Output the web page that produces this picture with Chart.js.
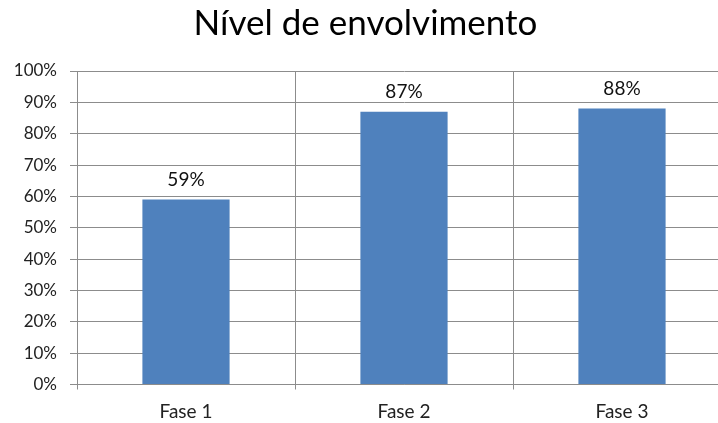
<!DOCTYPE html>
<html>
<head>
<meta charset="utf-8">
<script src="https://cdn.jsdelivr.net/npm/chart.js@4/dist/chart.umd.min.js"></script>
<style>
  html, body { margin: 0; padding: 0; background: #fff; overflow: hidden; }
  #wrap { width: 731px; height: 423px; }
</style>
</head>
<body>
<div id="wrap"><canvas id="grafico"></canvas></div>
<script>
const fases = ["Fase 1", "Fase 2", "Fase 3"];
const envolvimento = [59, 87, 88];
const titulo = "Nível de envolvimento";

// rotulos de valor em cima das barras
const rotulos = {
  id: "rotulos",
  afterDatasetsDraw(chart) {
    const ctx = chart.ctx;
    const meta = chart.getDatasetMeta(0);
    ctx.save();
    ctx.font = "19px Lato";
    ctx.fillStyle = "#111";
    ctx.textAlign = "center";
    ctx.textBaseline = "alphabetic";
    meta.data.forEach((bar, i) => {
      ctx.fillText(envolvimento[i] + "%", bar.x, bar.y - 14);
    });
    ctx.restore();
  }
};

const ctx = document.getElementById("grafico");
const grafico = new Chart(ctx, {
  type: "bar",
  data: {
    labels: fases,
    datasets: [
      {
        label: titulo,
        data: envolvimento,
        backgroundColor: "#4F81BD",
        borderWidth: 0,
        categoryPercentage: 1,
        barPercentage: 0.4,
      },
    ],
  },
  options: {
    responsive: true,
    maintainAspectRatio: false,
    animation: false,
    layout: { padding: 0 },
    plugins: {
      legend: { display: false },
      tooltip: { enabled: false },
      title: {
        display: true,
        text: titulo,
        color: "#000",
        font: { family: "Lato", size: 35, weight: "normal", lineHeight: 1.2 },
        padding: { top: 3, bottom: 26 },
      },
    },
    scales: {
      y: {
        min: 0,
        max: 100,
        ticks: {
          stepSize: 10,
          color: "#222",
          padding: 13,
          font: { family: "Lato", size: 17 },
          callback: (v) => v + "%",
        },
        grid: { color: "#8c8c8c", tickLength: 7, lineWidth: 1 },
        border: { color: "#8c8c8c" },
        afterFit: (s) => { s.width = 77; },
      },
      x: {
        ticks: {
          color: "#222",
          padding: 11,
          font: { family: "Lato", size: 19 },
        },
        grid: { color: "#8c8c8c", tickLength: 5, offset: true },
        border: { color: "#8c8c8c" },
        afterFit: (s) => { s.height = 38.5; },
      },
    },
  },
  plugins: [rotulos],
});
</script>
</body>
</html>
